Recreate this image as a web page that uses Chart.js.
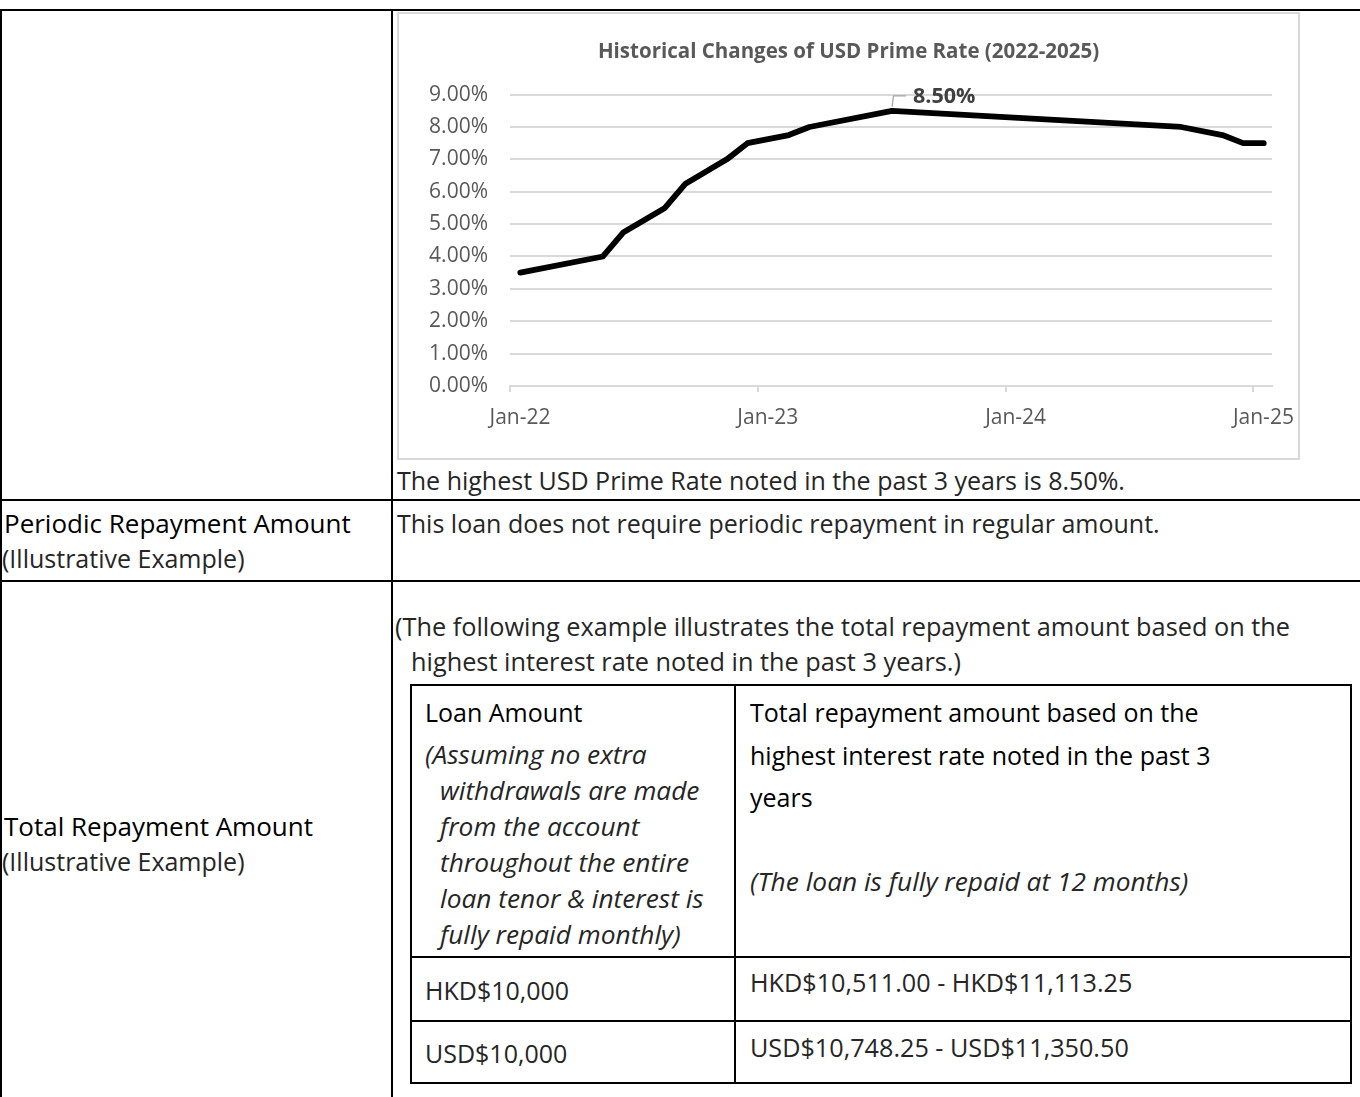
<!DOCTYPE html>
<html>
<head>
<meta charset="utf-8">
<script src="https://cdn.jsdelivr.net/npm/chart.js@4.4.1/dist/chart.umd.min.js"></script>
<style>
  body { margin: 0; background: #fff; font-family: "Open Sans", sans-serif; color: #000; }
  #page { position: relative; width: 1360px; height: 1097px; overflow: hidden; }
  .ln { position: absolute; background: #000; }
  .t { position: absolute; white-space: nowrap; font-size: 25px; line-height: 36px; }
  .hd { font-size: 26px; }
  .lt { color: #262626; }
  .it { font-style: italic; color: #262626; font-size: 26.3px; }
  #chartBox { position: absolute; left: 397px; top: 12px; width: 903px; height: 448px; border: 2px solid #d9d9d9; box-sizing: border-box; }
</style>
</head>
<body>
<div id="page">
  <!-- outer table lines -->
  <div class="ln" style="left:0;top:9px;width:1360px;height:2px"></div>
  <div class="ln" style="left:0;top:9px;width:2px;height:1088px"></div>
  <div class="ln" style="left:391px;top:9px;width:2px;height:1088px"></div>
  <div class="ln" style="left:0;top:499px;width:1360px;height:2px"></div>
  <div class="ln" style="left:0;top:580px;width:1360px;height:2px"></div>

  <div id="chartBox"><canvas id="rateChart" width="899" height="444"></canvas></div>

  <div class="t lt" style="left:397px;top:462px">The highest USD Prime Rate noted in the past 3 years is 8.50%.</div>

  <div class="t hd" style="left:4px;top:505px">Periodic Repayment Amount</div>
  <div class="t lt" style="left:2px;top:540px">(Illustrative Example)</div>
  <div class="t lt" style="left:397px;top:505px">This loan does not require periodic repayment in regular amount.</div>

  <div class="t hd" style="left:4px;top:808px">Total Repayment Amount</div>
  <div class="t lt" style="left:2px;top:843px">(Illustrative Example)</div>

  <div class="t lt" style="left:395px;top:608px;font-size:25.3px">(The following example illustrates the total repayment amount based on the</div>
  <div class="t lt" style="left:411px;top:643px;font-size:25.3px">highest interest rate noted in the past 3 years.)</div>

  <!-- inner table -->
  <div class="ln" style="left:410px;top:684px;width:942px;height:2px"></div>
  <div class="ln" style="left:410px;top:1082px;width:942px;height:2px"></div>
  <div class="ln" style="left:410px;top:684px;width:2px;height:400px"></div>
  <div class="ln" style="left:1350px;top:684px;width:2px;height:400px"></div>
  <div class="ln" style="left:734px;top:684px;width:2px;height:400px"></div>
  <div class="ln" style="left:410px;top:956px;width:942px;height:2px"></div>
  <div class="ln" style="left:410px;top:1020px;width:942px;height:2px"></div>

  <div class="t" style="left:425px;top:694px">Loan Amount</div>
  <div class="t it" style="left:425px;top:736px">(Assuming no extra</div>
  <div class="t it" style="left:440px;top:772px">withdrawals are made</div>
  <div class="t it" style="left:440px;top:808px">from the account</div>
  <div class="t it" style="left:440px;top:844px">throughout the entire</div>
  <div class="t it" style="left:440px;top:880px">loan tenor &amp; interest is</div>
  <div class="t it" style="left:440px;top:916px">fully repaid monthly)</div>

  <div class="t" style="left:750px;top:694px">Total repayment amount based on the</div>
  <div class="t" style="left:750px;top:737px">highest interest rate noted in the past 3</div>
  <div class="t" style="left:750px;top:779px">years</div>
  <div class="t it" style="left:750px;top:863px">(The loan is fully repaid at 12 months)</div>

  <div class="t lt" style="left:425px;top:972px">HKD$10,000</div>
  <div class="t lt" style="left:750px;top:964px;font-size:25.2px">HKD$10,511.00 - HKD$11,113.25</div>
  <div class="t lt" style="left:425px;top:1035px">USD$10,000</div>
  <div class="t lt" style="left:750px;top:1029px;font-size:25.2px">USD$10,748.25 - USD$11,350.50</div>
</div>

<script>
// months counted from Jan-22 (0 = Jan-22, 12 = Jan-23 ...)
const monthIndex = [0, 4, 5, 7, 8, 10, 11, 13, 14, 18, 32, 34, 35, 36];
const primeRate = [3.5, 4.0, 4.75, 5.5, 6.25, 7.0, 7.5, 7.75, 8.0, 8.5, 8.0, 7.75, 7.5, 7.5];
const xTickLabels = ['Jan-22', 'Jan-23', 'Jan-24', 'Jan-25'];
const xTickMonths = [-0.5, 11.5, 23.5, 35.5]; // year boundaries
const chartTitle = 'Historical Changes of USD Prime Rate (2022-2025)';

const axisFont = { family: '"Open Sans", sans-serif', size: 21 };

// label on the highest point with a small leader line
const peakLabel = {
    id: 'peakLabel',
    afterDatasetsDraw(chart) {
        const top = Math.max(...primeRate);
        const i = primeRate.indexOf(top);
        const pt = chart.getDatasetMeta(0).data[i];
        const c = chart.ctx;
        c.save();
        c.strokeStyle = '#a6a6a6';
        c.lineWidth = 1.3;
        c.beginPath();
        c.moveTo(pt.x, pt.y - 4);
        c.lineTo(pt.x + 1.5, pt.y - 15);
        c.lineTo(pt.x + 14, pt.y - 15);
        c.stroke();
        c.fillStyle = '#404040';
        c.font = 'bold 21.5px "Open Sans", sans-serif';
        c.textBaseline = 'middle';
        c.fillText(top.toFixed(2) + '%', pt.x + 21, pt.y - 14);
        c.restore();
    }
};

const ctx = document.getElementById('rateChart').getContext('2d');
const rateChart = new Chart(ctx, {
    type: 'line',
    data: {
        datasets: [{
            data: monthIndex.map((m, i) => ({ x: m, y: primeRate[i] })),
            borderColor: '#000',
            borderWidth: 5.8,
            pointRadius: 0,
            tension: 0,
            borderCapStyle: 'round',
            borderJoinStyle: 'round'
        }]
    },
    options: {
        responsive: false,
        animation: false,
        layout: { padding: { left: 26, right: 26, top: 0, bottom: 0 } },
        plugins: {
            legend: { display: false },
            tooltip: { enabled: false },
            title: {
                display: true,
                text: chartTitle,
                color: '#595959',
                font: { family: '"Open Sans", sans-serif', size: 20.5, weight: 'bold' },
                padding: { top: 26, bottom: 30 }
            }
        },
        scales: {
            x: {
                type: 'linear',
                min: -0.5,
                max: 36.4,
                afterBuildTicks: s => { s.ticks = xTickMonths.map(v => ({ value: v })); },
                afterFit: s => { s.height = 72; },
                ticks: {
                    callback: (v, i) => xTickLabels[i],
                    autoSkip: false,
                    maxRotation: 0,
                    labelOffset: 10,
                    padding: 13,
                    color: '#595959',
                    font: axisFont
                },
                grid: { drawOnChartArea: false, color: '#d9d9d9', lineWidth: 2, tickLength: 6 },
                border: { color: '#d9d9d9', width: 2 }
            },
            y: {
                min: 0,
                max: 9,
                afterFit: s => { s.width = 85; },
                ticks: {
                    stepSize: 1,
                    callback: v => v.toFixed(2) + '%',
                    padding: 22,
                    color: '#595959',
                    font: axisFont
                },
                grid: { color: '#d9d9d9', lineWidth: 2, drawTicks: false },
                border: { display: false }
            }
        }
    },
    plugins: [peakLabel]
});
</script>
</body>
</html>
